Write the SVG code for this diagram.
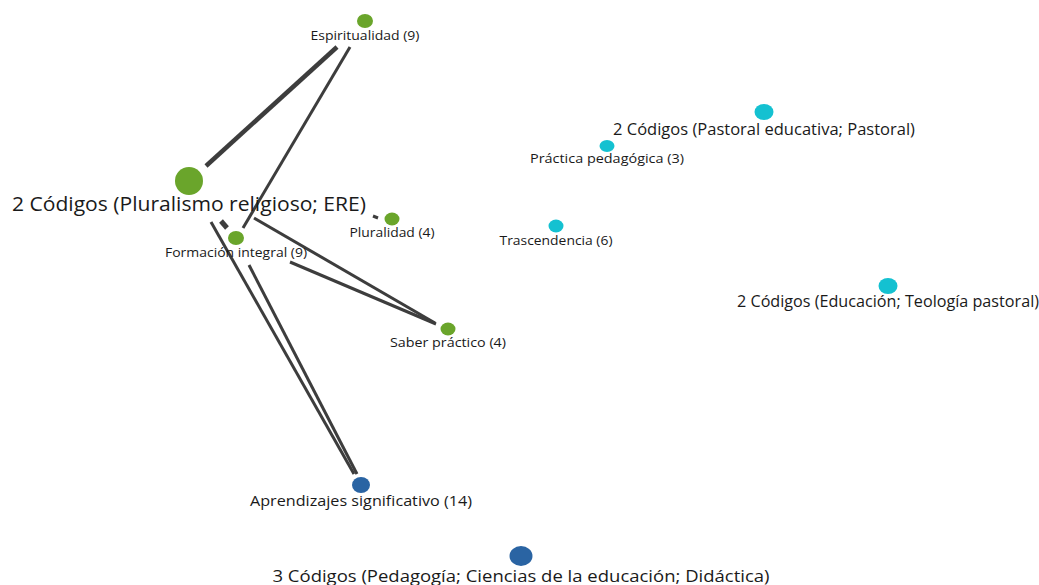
<svg xmlns="http://www.w3.org/2000/svg" width="1039" height="585" viewBox="0 0 1039 585">
<style>
text{font-family:"Open Sans","Noto Sans","Liberation Sans",sans-serif;fill:#1a1a1a;text-anchor:middle}
.g{fill:#6aa52b}.c{fill:#14c1d1}.b{fill:#2a64a3}
.e{stroke:#3d3d3d;stroke-linecap:butt;fill:none}
.s{font-size:12.5px}.m{font-size:14.5px}.l{font-size:15.5px}.xl{font-size:19.5px}
</style>
<rect width="1039" height="585" fill="#fff"/>
<g id="connectors">
<line class="e" x1="337" y1="47" x2="206" y2="166" stroke-width="4.5"/>
<line class="e" x1="350" y1="47" x2="243" y2="228" stroke-width="3"/>
<line class="e" x1="373" y1="216" x2="378" y2="218" stroke-width="3"/>
<line class="e" x1="221" y1="221" x2="227" y2="228" stroke-width="5"/>
<line class="e" x1="254" y1="218" x2="435" y2="323" stroke-width="3"/>
<line class="e" x1="290" y1="262" x2="436" y2="324" stroke-width="3"/>
<line class="e" x1="211" y1="222" x2="354" y2="474" stroke-width="3"/>
<line class="e" x1="249" y1="265" x2="357" y2="474" stroke-width="3"/>
</g>
<g id="n-espiritualidad"><ellipse class="g" cx="365" cy="21" rx="8" ry="7"/><text class="s" x="365" y="40" textLength="109" lengthAdjust="spacingAndGlyphs">Espiritualidad (9)</text></g>
<g id="n-pluralismo"><circle class="g" cx="189" cy="181" r="14"/><text class="xl" x="189" y="211" textLength="354" lengthAdjust="spacingAndGlyphs">2 Códigos (Pluralismo religioso; ERE)</text></g>
<g id="n-pluralidad"><ellipse class="g" cx="392" cy="219" rx="7.5" ry="6.5"/><text class="s" x="392" y="237" textLength="85" lengthAdjust="spacingAndGlyphs">Pluralidad (4)</text></g>
<g id="n-formacion"><ellipse class="g" cx="236" cy="238" rx="8" ry="7"/><text class="s" x="236" y="257" textLength="142" lengthAdjust="spacingAndGlyphs">Formación integral (9)</text></g>
<g id="n-saber"><ellipse class="g" cx="448" cy="329" rx="7.5" ry="6.5"/><text class="s" x="448" y="347" textLength="116" lengthAdjust="spacingAndGlyphs">Saber práctico (4)</text></g>
<g id="n-aprendizajes"><ellipse class="b" cx="361" cy="485" rx="9" ry="8"/><text class="m" x="361" y="506" textLength="222" lengthAdjust="spacingAndGlyphs">Aprendizajes significativo (14)</text></g>
<g id="n-pedagogia"><ellipse class="b" cx="521" cy="556" rx="11.5" ry="10"/><text class="l" x="521" y="582" textLength="497" lengthAdjust="spacingAndGlyphs">3 Códigos (Pedagogía; Ciencias de la educación; Didáctica)</text></g>
<g id="n-pastoral"><ellipse class="c" cx="764" cy="112" rx="9.5" ry="8"/><text class="l" x="764" y="135" textLength="302" lengthAdjust="spacingAndGlyphs">2 Códigos (Pastoral educativa; Pastoral)</text></g>
<g id="n-practica"><ellipse class="c" cx="607" cy="146" rx="7.5" ry="6"/><text class="s" x="607" y="163" textLength="154" lengthAdjust="spacingAndGlyphs">Práctica pedagógica (3)</text></g>
<g id="n-trascendencia"><ellipse class="c" cx="556" cy="226" rx="7.5" ry="6.5"/><text class="s" x="556" y="245" textLength="113" lengthAdjust="spacingAndGlyphs">Trascendencia (6)</text></g>
<g id="n-educacion"><ellipse class="c" cx="888" cy="286" rx="9.5" ry="8"/><text class="l" x="888" y="307" textLength="302" lengthAdjust="spacingAndGlyphs">2 Códigos (Educación; Teología pastoral)</text></g>
</svg>
